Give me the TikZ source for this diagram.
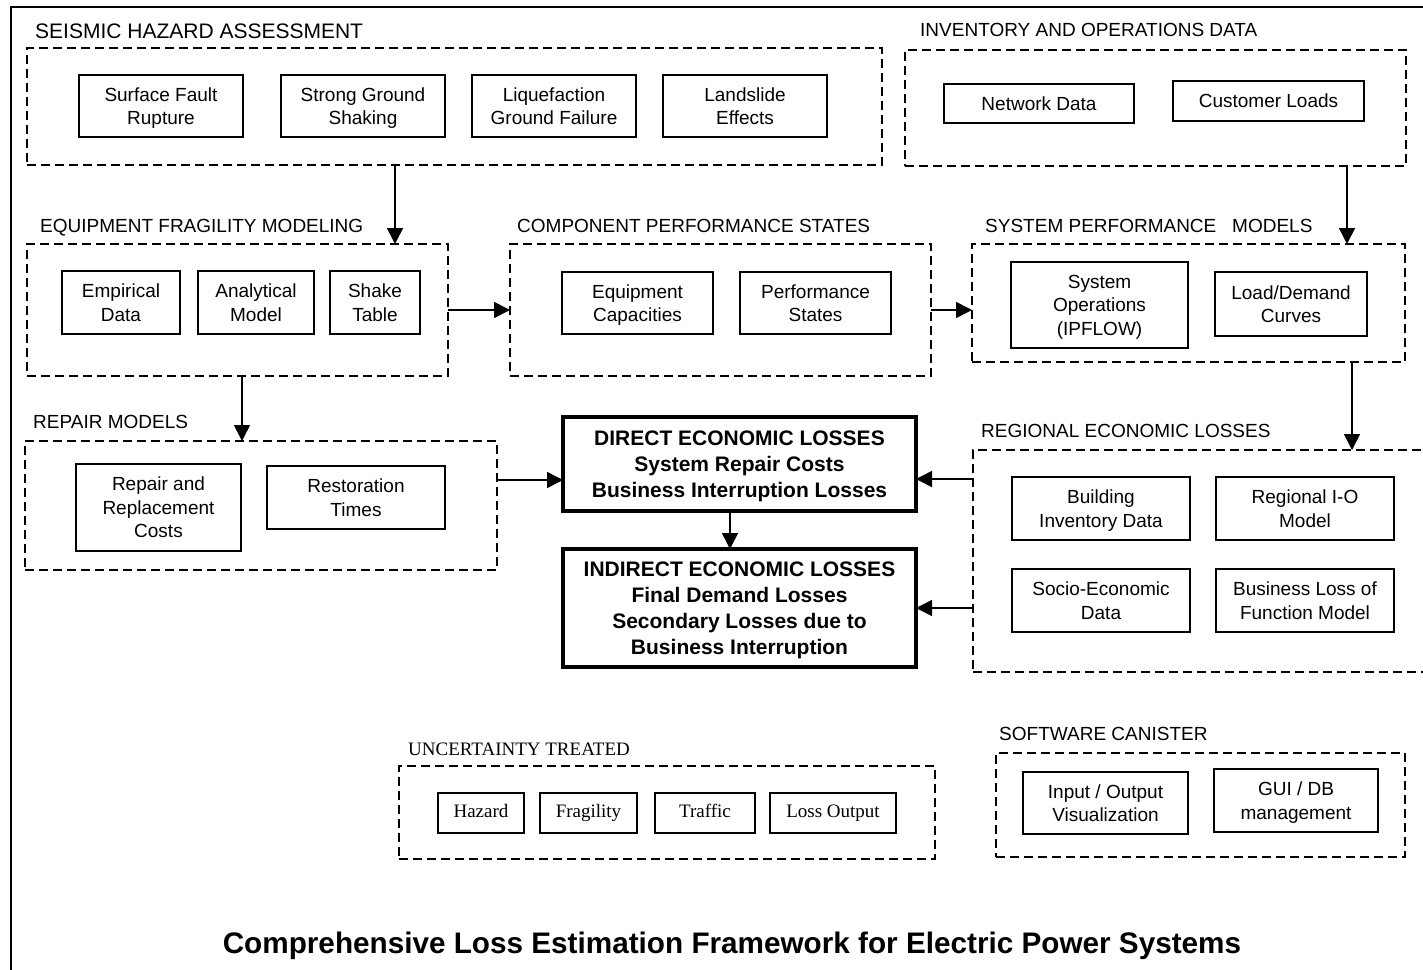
\documentclass[tikz,border=0pt]{standalone}
\usepackage{fontspec}
\setmainfont{Liberation Sans}
\newfontfamily\timesfam{Liberation Serif}
\usetikzlibrary{arrows.meta}
\tikzset{
  box/.style={draw, line width=1.6pt, inner sep=0pt, outer sep=0pt, align=center, text depth=0pt, font=\fontsize{19}{23.5}\selectfont},
  tbox/.style={draw, line width=1.6pt, inner sep=0pt, outer sep=0pt, align=center, text height=13pt, text depth=4pt, font=\timesfam\fontsize{19}{23}\selectfont},
  grp/.style={draw, line width=1.8pt, dash pattern=on 9pt off 5pt, inner sep=0pt, outer sep=0pt},
  lab/.style={anchor=base west, inner sep=0pt, font=\fontsize{19}{23}\selectfont},
  big/.style={draw, line width=4pt, inner sep=0pt, outer sep=0pt, align=center, text depth=0pt, font=\fontsize{21}{26}\selectfont\bfseries},
  arr/.style={line width=1.6pt, -{Triangle[length=16pt,width=16pt]}},
}
\begin{document}
\begin{tikzpicture}[x=1pt,y=-1pt]
\useasboundingbox (0,0) rectangle (1423,969);
\clip (0,0) rectangle (1423,969);
\fill[white] (0,0) rectangle (1423,969);
% outer frame
\draw[line width=2pt] (11,7) rectangle (1450,1000);

% seismic hazard
\node[lab, font=\fontsize{21}{25}\selectfont] (lsha) at (35,38) {SEISMIC HAZARD ASSESSMENT};
\node[grp, minimum width=855pt, minimum height=117pt] (sha) at (454.5,106.5) {};
\node[box, minimum width=164pt, minimum height=62pt] (sfr) at (161,106) {Surface Fault\\Rupture};
\node[box, minimum width=164pt, minimum height=62pt] (sgs) at (363,106) {Strong Ground\\Shaking};
\node[box, minimum width=164pt, minimum height=62pt] (lgf) at (554,106) {Liquefaction\\Ground Failure};
\node[box, minimum width=164pt, minimum height=62pt] (lse) at (745,106) {Landslide\\Effects};

% inventory
\node[lab] (linv) at (920,36) {INVENTORY AND OPERATIONS DATA};
\node[grp, minimum width=501pt, minimum height=116pt] (inv) at (1155.5,108) {};
\node[box, minimum width=190pt, minimum height=39pt] (nwd) at (1039,103.5) {Network Data};
\node[box, minimum width=191pt, minimum height=40pt] (cul) at (1268.5,101) {Customer Loads};

% equipment fragility
\node[lab] (lefm) at (40,232) {EQUIPMENT FRAGILITY MODELING};
\node[grp, minimum width=421pt, minimum height=132pt] (efm) at (237.5,310) {};
\node[box, minimum width=118pt, minimum height=63pt] (emp) at (121,302.5) {Empirical\\Data};
\node[box, minimum width=116pt, minimum height=63pt] (ana) at (256,302.5) {Analytical\\Model};
\node[box, minimum width=90pt, minimum height=63pt] (sht) at (375,302.5) {Shake\\Table};

% component performance
\node[lab] (lcps) at (517,232) {COMPONENT PERFORMANCE STATES};
\node[grp, minimum width=421pt, minimum height=132pt] (cps) at (720.5,310) {};
\node[box, minimum width=151pt, minimum height=62pt] (eqc) at (637.5,303) {Equipment\\Capacities};
\node[box, minimum width=151pt, minimum height=62pt] (pst) at (815.5,303) {Performance\\States};

% system performance
\node[lab] (lspm) at (985,232) {SYSTEM PERFORMANCE\ \ \ MODELS};
\node[grp, minimum width=433pt, minimum height=118pt] (spm) at (1188.5,303) {};
\node[box, minimum width=177pt, minimum height=86pt] (sop) at (1099.5,305) {System\\Operations\\(IPFLOW)};
\node[box, minimum width=152pt, minimum height=64pt] (ldc) at (1291,304) {Load/Demand\\Curves};

% repair models
\node[lab] (lrep) at (33,428) {REPAIR MODELS};
\node[grp, minimum width=472pt, minimum height=129pt] (rep) at (261,505.5) {};
\node[box, minimum width=165pt, minimum height=87pt] (rrc) at (158.5,507.5) {Repair and\\Replacement\\Costs};
\node[box, minimum width=178pt, minimum height=63pt] (rst) at (356,497.5) {Restoration\\Times};

% direct / indirect
\node[big, minimum width=353pt, minimum height=94pt] (dir) at (739.5,464) {DIRECT ECONOMIC LOSSES\\System Repair Costs\\Business Interruption Losses};
\node[big, minimum width=353pt, minimum height=118pt] (ind) at (739.5,608) {INDIRECT ECONOMIC LOSSES\\Final Demand Losses\\Secondary Losses due to\\Business Interruption};

% regional economic losses
\node[lab] (lrel) at (981,437) {REGIONAL ECONOMIC LOSSES};
\node[grp, minimum width=477pt, minimum height=222pt] (rel) at (1211.5,561) {};
\node[box, minimum width=178pt, minimum height=63pt] (bid) at (1101,508.5) {Building\\Inventory Data};
\node[box, minimum width=178pt, minimum height=63pt] (rio) at (1305,508.5) {Regional I-O\\Model};
\node[box, minimum width=178pt, minimum height=63pt] (sed) at (1101,600.5) {Socio-Economic\\Data};
\node[box, minimum width=178pt, minimum height=63pt] (blf) at (1305,600.5) {Business Loss of\\Function Model};

% uncertainty treated
\node[lab, font=\timesfam\fontsize{19}{23}\selectfont] (lunc) at (408,755) {UNCERTAINTY TREATED};
\node[grp, minimum width=536pt, minimum height=93pt] (unc) at (667,812.5) {};
\node[tbox, minimum width=86pt, minimum height=40pt] (haz) at (481,813) {Hazard};
\node[tbox, minimum width=97pt, minimum height=40pt] (fra) at (588.5,813) {Fragility};
\node[tbox, minimum width=100pt, minimum height=40pt] (tra) at (705,813) {Traffic};
\node[tbox, minimum width=126pt, minimum height=40pt] (lso) at (833,813) {Loss Output};

% software canister
\node[lab] (lsof) at (999,740) {SOFTWARE CANISTER};
\node[grp, minimum width=409pt, minimum height=104pt] (sof) at (1200.5,805) {};
\node[box, minimum width=165pt, minimum height=62pt] (iov) at (1105.5,803) {Input / Output\\Visualization};
\node[box, minimum width=164pt, minimum height=63pt] (gui) at (1296,800.5) {GUI / DB\\management};

% title
\node[anchor=base, inner sep=0pt, font=\fontsize{29.7}{34}\selectfont\bfseries] (ttl) at (732,953) {Comprehensive Loss Estimation Framework for Electric Power Systems};

% connector positions
\coordinate (x1) at (395,0);
\coordinate (x2) at (1347,0);
\coordinate (x3) at (1352,0);
\coordinate (x4) at (242,0);
\coordinate (x5) at (730,0);
\coordinate (y1) at (0,480);
\coordinate (y2) at (0,479);

% connectors
\draw[arr] (sha.south -| x1) -- (efm.north -| x1);
\draw[arr] (inv.south -| x2) -- (spm.north -| x2);
\draw[arr] (efm.east) -- (cps.west);
\draw[arr] (cps.east) -- (cps.east -| spm.west);
\draw[arr] (spm.south -| x3) -- (rel.north -| x3);
\draw[arr] (efm.south -| x4) -- (rep.north -| x4);
\draw[arr] (rep.east |- y1) -- (dir.west |- y1);
\draw[arr] (dir.south -| x5) -- (ind.north -| x5);
\draw[arr] (rel.west |- y2) -- (dir.east |- y2);
\draw[arr] (rel.west |- ind.east) -- (ind.east);
\end{tikzpicture}
\end{document}
